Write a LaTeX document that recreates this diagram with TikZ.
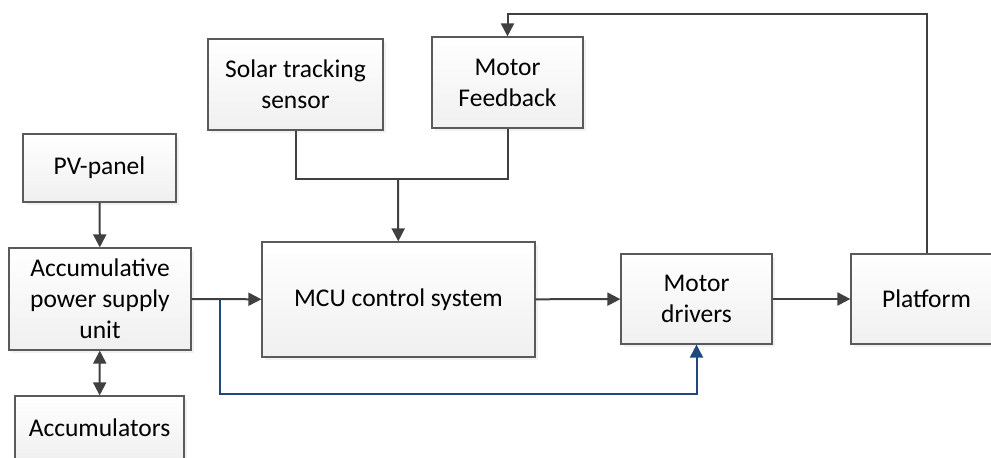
\documentclass[tikz,border=0pt]{standalone}
\usepackage{fontspec}
\setmainfont{Carlito}
\usepackage{tikz}
\usetikzlibrary{arrows.meta, positioning, shadows}

\definecolor{linegray}{RGB}{64,64,64}
\definecolor{boxgray}{RGB}{90,90,90}
\definecolor{feedblue}{RGB}{31,73,125}

\tikzset{
	block/.style={
		draw=boxgray,
		line width=1.2pt,
		top color=white,
		bottom color=gray!12,
		drop shadow={shadow xshift=3pt, shadow yshift=-3pt, fill=gray!22},
		align=center,
		inner sep=0pt,
		font=\fontsize{25.5}{31}\selectfont
	},
	wire/.style={
		draw=linegray,
		line width=2pt,
		-{Triangle[length=13pt,width=13pt]}
	},
	bluewire/.style={
		wire,
		draw=feedblue,
		-{Triangle[length=13pt,width=13pt,fill=feedblue]}
	}
}

\begin{document}
\begin{tikzpicture}[x=1pt,y=-1pt]
		\useasboundingbox (0,0) rectangle (991,458);

		% blocks
		\node[block, minimum width=153pt, minimum height=68pt] (pv) at (99.5,168) {PV-panel};
		\node[block, minimum width=182pt, minimum height=102pt] (apsu) at (100,299) {Accumulative\\power supply\\unit};
		\node[block, minimum width=169pt, minimum height=64pt] (accu) at (99.5,428) {Accumulators};
		\node[block, minimum width=175pt, minimum height=91pt] (solar) at (295.5,84.5) {Solar tracking\\sensor};
		\node[block, minimum width=151pt, minimum height=91pt] (motfb) at (507.5,82.5) {Motor\\Feedback};
		\node[block, minimum width=273pt, minimum height=115pt] (mcu) at (398.5,299.5) {MCU control system};
		\node[block, minimum width=151pt, minimum height=90pt] (drv) at (696.5,299) {Motor\\drivers};
		\node[block, minimum width=151pt, minimum height=90pt] (plat) at (926.5,299) {Platform};

		% helper points
		\coordinate (split) at (220,299);
		\coordinate (join) at (398,179);
		\coordinate (top) at (927,14);

		% connectors
		\draw[wire] (pv) -- (apsu);
		\draw[wire, {Triangle[length=13pt,width=13pt]}-{Triangle[length=13pt,width=13pt]}] (apsu) -- (accu);
		\draw[wire] (apsu) -- (mcu);
		\draw[wire, -] (solar.south) |- (join) -| (motfb.south);
		\draw[wire] (join) -- (mcu);
		\draw[wire] (mcu) -- (drv);
		\draw[wire] (drv) -- (plat);
		\draw[wire] (plat.north) |- (top -| motfb) -- (motfb.north);
		\draw[bluewire] (split) |- (0,394 -| drv) -- (drv.south);
	\end{tikzpicture}
\end{document}
